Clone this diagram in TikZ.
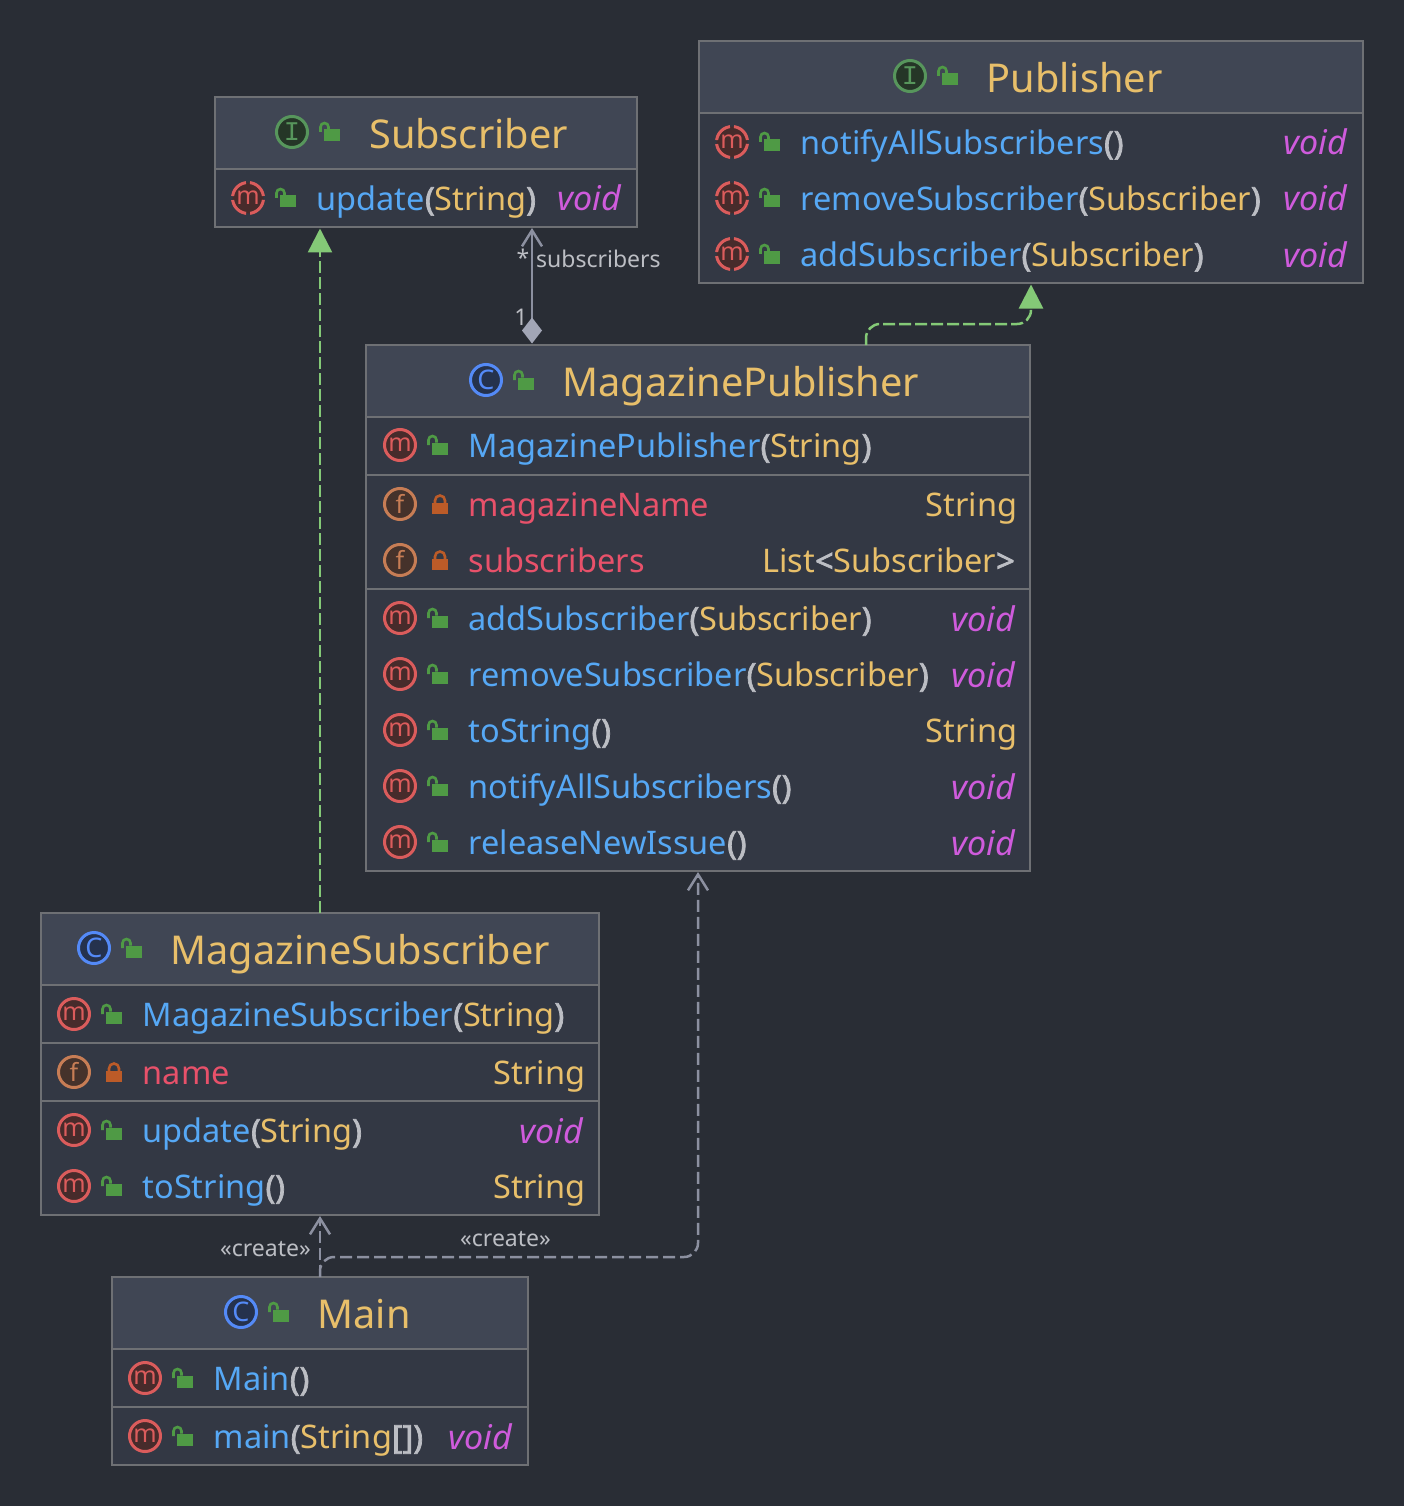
\documentclass[tikz,border=0pt]{standalone}
\usepackage{fontspec}
\usepackage{xcolor}
\usepackage{tikz}
\usetikzlibrary{arrows.meta, positioning}
\setmainfont{Noto Sans}
\newfontfamily\iconmono{Liberation Mono}
\newfontfamily\parenfont[FakeBold=2.2]{Noto Sans}

\definecolor{bgdark}{HTML}{292D35}
\definecolor{bodyfill}{HTML}{333844}
\definecolor{headfill}{HTML}{404654}
\definecolor{boxline}{HTML}{6E7074}
\definecolor{mthblue}{HTML}{56A8F5}
\definecolor{fieldred}{HTML}{E8516A}
\definecolor{typeyellow}{HTML}{E8BF6A}
\definecolor{voidpink}{HTML}{CF5BDC}
\definecolor{parengray}{HTML}{BCBEC4}
\definecolor{lockgreen}{HTML}{4F9A45}
\definecolor{lockorange}{HTML}{BC5B28}
\definecolor{implgreen}{HTML}{84C977}
\definecolor{assocgray}{HTML}{8C90A0}
\definecolor{diamondgray}{HTML}{A2A6B6}

\newcommand{\mthname}[1]{\textcolor{mthblue}{#1}}
\newcommand{\typname}[1]{\textcolor{typeyellow}{#1}}
\newcommand{\fldname}[1]{\textcolor{fieldred}{#1}}
\newcommand{\parn}[1]{\textcolor{parengray}{\parenfont #1}}
% name, icon style, letter, lock, x, y, text
\newcommand{\memberrow}[7]{
  \node[#2] (#1icon) at (#5,#6-1) {#3};
  \pic at (#5+40,#6+2.5) {#4};
  \node[membertext] (#1) at (#5+68.5,#6+11.5) {#7};
}

\begin{document}
\begin{tikzpicture}[
  x=1pt, y=-1pt,
  classbox/.style={rectangle, draw=boxline, line width=2pt, fill=bodyfill, outer sep=0pt, inner sep=0pt},
  headbox/.style={rectangle, draw=boxline, line width=2pt, fill=headfill, outer sep=0pt, inner sep=0pt, minimum height=72pt},
  sepline/.style={draw=boxline, line width=2pt},
  titletext/.style={anchor=base west, inner sep=0pt, text=typeyellow, font=\fontsize{39.7}{40}\selectfont},
  membertext/.style={anchor=base west, inner sep=0pt, font=\fontsize{32.5}{33}\selectfont},
  rettext/.style={anchor=base east, inner sep=0pt, font=\fontsize{32.5}{33}\selectfont},
  voidtext/.style={rettext, text=voidpink, font=\fontsize{34}{34}\selectfont\itshape},
  icon/.style={circle, line width=3pt, minimum size=31pt, inner sep=0pt, outer sep=0pt, font=\fontsize{25}{25}\selectfont},
  micon/.style={icon, draw=mred, fill=mredfill, text=mred},
  absmicon/.style={micon, dash pattern=on 20.35pt off 4pt, dash phase=22.35pt},
  ficon/.style={icon, draw=fbrown, fill=fbrownfill, text=fbrown},
  cicon/.style={icon, draw=cblue, fill=cbluefill, text=cblue, font=\fontsize{27}{27}\selectfont},
  iicon/.style={icon, draw=igreen, fill=igreenfill, text=igreen, font=\iconmono\fontsize{27}{27}\selectfont},
  openlock/.pic={
    \fill[lockgreen] (-8,-6) rectangle (8,6);
    \draw[lockgreen, line width=2.6pt] (-11.5,-3.5) -- (-11.5,-8.5) arc[start angle=180, end angle=360, radius=4] -- (-3.5,-6);
  },
  closedlock/.pic={
    \fill[lockorange] (-7.7,-4.2) rectangle (7.7,6.5);
    \draw[lockorange, line width=2.6pt] (-5,-4) -- (-5,-7) arc[start angle=180, end angle=360, radius=5] -- (5,-4);
  },
  implarrow/.style={draw=implgreen, line width=2.5pt, dash pattern=on 12pt off 4pt, -{Triangle[length=24pt, width=24pt, fill=implgreen]}, shorten >=1.5pt},
  deparrow/.style={draw=assocgray, line width=2.5pt, dash pattern=on 12pt off 5pt, -{Straight Barb[length=16pt, width=20pt]}, shorten >=1pt},
  assocarrow/.style={draw=assocgray, line width=2.5pt, {Diamond[length=26pt, width=20pt, fill=diamondgray, color=diamondgray]}-{Straight Barb[length=16pt, width=20pt]}, shorten >=1pt, shorten <=1.5pt},
  edgelabel/.style={inner sep=0pt, text=parengray, font=\fontsize{23}{24}\selectfont},
]
  \definecolor{mred}{HTML}{DB5C5C}
  \definecolor{mredfill}{HTML}{472B2B}
  \definecolor{fbrown}{HTML}{C77D55}
  \definecolor{fbrownfill}{HTML}{45322B}
  \definecolor{cblue}{HTML}{548AF7}
  \definecolor{cbluefill}{HTML}{25324D}
  \definecolor{igreen}{HTML}{57965C}
  \definecolor{igreenfill}{HTML}{253627}

  \fill[bgdark] (0,0) rectangle (1404,1506);
  \useasboundingbox (0,0) rectangle (1404,1506);

  % Subscriber
  \node[classbox, minimum width=422pt, minimum height=130pt] (subscriber) at (426,162) {};
  \node[headbox, minimum width=422pt, anchor=north] (subscriberhead) at (subscriber.north) {};
  \node[iicon] (subscriberkind) at (292,132) {I};
  \pic at (332,135.5) {openlock};
  \node[titletext] (subscribertitle) at (369,148.5) {Subscriber};
  \memberrow{subupdate}{absmicon}{m}{openlock}{248}{199}{\mthname{update}\parn{(}\typname{String}\parn{)}}
  \node[voidtext] (subupdatetype) at (621,211) {void};

  % Publisher
  \node[classbox, minimum width=664pt, minimum height=242pt] (publisher) at (1031,162) {};
  \node[headbox, minimum width=664pt, anchor=north] (publisherhead) at (publisher.north) {};
  \node[iicon] (publisherkind) at (910,76) {I};
  \pic at (950,79.5) {openlock};
  \node[titletext] (publishertitle) at (986.5,92.5) {Publisher};
  \memberrow{pubnotify}{absmicon}{m}{openlock}{732}{143}{\mthname{notifyAllSubscribers}\parn{()}}
  \node[voidtext] (pubnotifytype) at (1347,155) {void};
  \memberrow{pubremove}{absmicon}{m}{openlock}{732}{199}{\mthname{removeSubscriber}\parn{(}\typname{Subscriber}\parn{)}}
  \node[voidtext] (pubremovetype) at (1347,211) {void};
  \memberrow{pubadd}{absmicon}{m}{openlock}{732}{255}{\mthname{addSubscriber}\parn{(}\typname{Subscriber}\parn{)}}
  \node[voidtext] (pubaddtype) at (1347,267) {void};

  % MagazinePublisher
  \node[classbox, minimum width=664pt, minimum height=526pt] (magpub) at (698,608) {};
  \node[headbox, minimum width=664pt, anchor=north] (magpubhead) at (magpub.north) {};
  \node[cicon] (magpubkind) at (486,380) {C};
  \pic at (526,383.5) {openlock};
  \node[titletext] (magpubtitle) at (562.5,396.5) {MagazinePublisher};
  \memberrow{mpctor}{micon}{m}{openlock}{400}{446}{\mthname{MagazinePublisher}\parn{(}\typname{String}\parn{)}}
  \draw[sepline] (magpub.west |- 0,475) -- (magpub.east |- 0,475);
  \memberrow{mpname}{ficon}{f}{closedlock}{400}{505}{\fldname{magazineName}}
  \node[rettext, text=typeyellow] (mpnametype) at (1017.5,516.5) {String};
  \memberrow{mpsubs}{ficon}{f}{closedlock}{400}{561}{\fldname{subscribers}}
  \node[rettext] (mpsubstype) at (1015,572.5) {\typname{List}\parn{<}\typname{Subscriber}\parn{>}};
  \draw[sepline] (magpub.west |- 0,589) -- (magpub.east |- 0,589);
  \memberrow{mpadd}{micon}{m}{openlock}{400}{619}{\mthname{addSubscriber}\parn{(}\typname{Subscriber}\parn{)}}
  \node[voidtext] (mpaddtype) at (1015,631) {void};
  \memberrow{mpremove}{micon}{m}{openlock}{400}{675}{\mthname{removeSubscriber}\parn{(}\typname{Subscriber}\parn{)}}
  \node[voidtext] (mpremovetype) at (1015,687) {void};
  \memberrow{mpstring}{micon}{m}{openlock}{400}{731}{\mthname{toString}\parn{()}}
  \node[rettext, text=typeyellow] (mpstringtype) at (1017.5,742.5) {String};
  \memberrow{mpnotify}{micon}{m}{openlock}{400}{787}{\mthname{notifyAllSubscribers}\parn{()}}
  \node[voidtext] (mpnotifytype) at (1015,799) {void};
  \memberrow{mprelease}{micon}{m}{openlock}{400}{843}{\mthname{releaseNewIssue}\parn{()}}
  \node[voidtext] (mpreleasetype) at (1015,855) {void};

  % MagazineSubscriber
  \node[classbox, minimum width=558pt, minimum height=302pt] (magsub) at (320,1064) {};
  \node[headbox, minimum width=558pt, anchor=north] (magsubhead) at (magsub.north) {};
  \node[cicon] (magsubkind) at (94,948) {C};
  \pic at (134,951.5) {openlock};
  \node[titletext] (magsubtitle) at (170.5,964.5) {MagazineSubscriber};
  \memberrow{msctor}{micon}{m}{openlock}{74}{1015}{\mthname{MagazineSubscriber}\parn{(}\typname{String}\parn{)}}
  \draw[sepline] (magsub.west |- 0,1043) -- (magsub.east |- 0,1043);
  \memberrow{msname}{ficon}{f}{closedlock}{74}{1073}{\fldname{name}}
  \node[rettext, text=typeyellow] (msnametype) at (585.5,1084.5) {String};
  \draw[sepline] (magsub.west |- 0,1101) -- (magsub.east |- 0,1101);
  \memberrow{msupdate}{micon}{m}{openlock}{74}{1131}{\mthname{update}\parn{(}\typname{String}\parn{)}}
  \node[voidtext] (msupdatetype) at (583,1143) {void};
  \memberrow{msstring}{micon}{m}{openlock}{74}{1187}{\mthname{toString}\parn{()}}
  \node[rettext, text=typeyellow] (msstringtype) at (585.5,1198.5) {String};

  % Main
  \node[classbox, minimum width=416pt, minimum height=188pt] (main) at (320,1371) {};
  \node[headbox, minimum width=416pt, anchor=north] (mainhead) at (main.north) {};
  \node[cicon] (mainkind) at (241,1312) {C};
  \pic at (281,1315.5) {openlock};
  \node[titletext] (maintitle) at (317.5,1328.5) {Main};
  \memberrow{mainctor}{micon}{m}{openlock}{145}{1379}{\mthname{Main}\parn{()}}
  \draw[sepline] (main.west |- 0,1407) -- (main.east |- 0,1407);
  \memberrow{mainmain}{micon}{m}{openlock}{145}{1437}{\mthname{main}\parn{(}\typname{String}\parn{[])}}
  \node[voidtext] (mainmaintype) at (512,1449) {void};

  % connectors
  \coordinate (magpubout) at (866,345);
  \coordinate (magpubbend) at (866,324);
  \coordinate (magpubin) at (532,345);
  \coordinate (mainbend) at (320,1257);

  \draw[implarrow] (magsub.north) -- (magsub.north |- subscriber.south);
  \draw[implarrow, rounded corners=14pt] (magpubout) -- (magpubbend) -- (magpubbend -| publisher.south) -- (publisher.south);
  \draw[assocarrow] (magpubin) -- (magpubin |- subscriber.south);
  \draw[deparrow] (main.north) -- (magsub.south);
  \draw[deparrow, rounded corners=14pt] (main.north) -- (mainbend) -- (mainbend -| magpub.south) -- (magpub.south);

  \node[edgelabel, anchor=base west] (subslabel) at (536,268) {subscribers};
  \node[edgelabel, anchor=base] (manylabel) at (523,266) {*};
  \node[edgelabel, anchor=base] (onelabel) at (521,325) {1};
  \node[edgelabel, anchor=base east] (createleft) at (311,1256) {«create»};
  \node[edgelabel, anchor=base west] (createright) at (460,1246) {«create»};
\end{tikzpicture}
\end{document}
